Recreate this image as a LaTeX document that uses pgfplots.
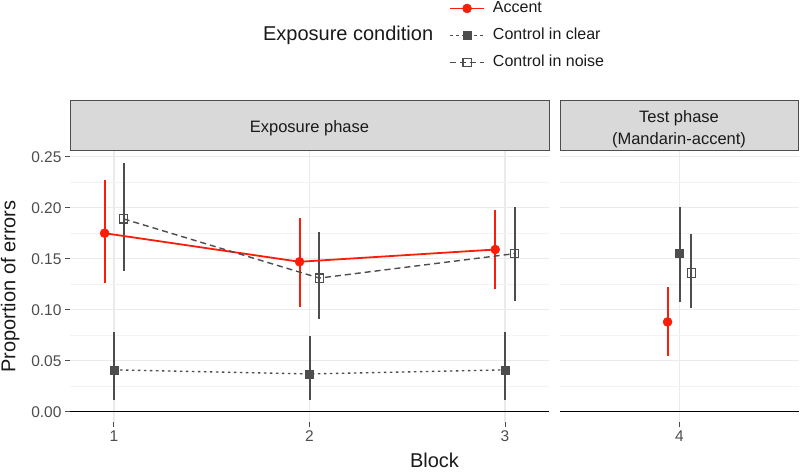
\documentclass[border=0pt]{standalone}
\usepackage{pgfplots}
\pgfplotsset{compat=1.18}
\usepackage{pgfplotstable}
\usepackage{fontspec}
\setmainfont{Liberation Sans}
\definecolor{accred}{RGB}{250,30,10}
\definecolor{ctrl}{RGB}{77,77,77}
\definecolor{gridc}{RGB}{235,235,235}
\definecolor{gridm}{RGB}{243,243,243}
\definecolor{stripfill}{RGB}{217,217,217}
\definecolor{tickc}{RGB}{77,77,77}
\definecolor{txt}{RGB}{26,26,26}

% point estimates
\pgfplotstableread{
x y
0.952 0.175
1.949 0.147
2.950 0.159
}\accL
\pgfplotstableread{
x y
1.000 0.041
2.000 0.037
3.000 0.041
}\clrL
\pgfplotstableread{
x y
1.050 0.189
2.050 0.131
3.050 0.155
}\noiL
\pgfplotstableread{
x y
3.939 0.088
}\accR
\pgfplotstableread{
x y
4.000 0.155
}\clrR
\pgfplotstableread{
x y
4.061 0.136
}\noiR

\pgfplotsset{
  panel/.style={
    scale only axis, anchor=south west,
    height=271pt, ymin=-0.0101, ymax=0.2556,
    axis line style={draw=none},
    ytick={0,0.05,0.10,0.15,0.20,0.25},
    minor ytick={0.025,0.075,0.125,0.175,0.225},
    grid=both,
    major grid style={gridc, line width=1.1pt},
    minor grid style={gridm, line width=0.6pt},
    tick align=outside, major tick length=5pt, minor tick length=0pt,
    xtick pos=bottom, ytick pos=left,
    every tick/.style={tickc, line width=1pt},
    tick label style={font=\fontsize{15.5}{18}\selectfont, text=tickc},
    /pgf/number format/assume math mode=true,
    yticklabel style={/pgf/number format/.cd, fixed, fixed zerofill, precision=2},
    clip=false, unbounded coords=jump,
  },
  ebar/.style={#1, line width=2pt, solid, forget plot, mark=none},
}

\begin{document}
\begin{tikzpicture}[x=1pt,y=1pt]
\useasboundingbox (0,0) rectangle (800,471);

% strips
\draw[fill=stripfill, draw=ctrl, line width=0.7pt] (70,321) rectangle (549,371);
\draw[fill=stripfill, draw=ctrl, line width=0.7pt] (560,321) rectangle (798,371);
\node[anchor=base, font=\fontsize{16.5}{20}\selectfont, text=txt] at (309.5,338.4) {Exposure phase};
\node[anchor=base, font=\fontsize{16.5}{20}\selectfont, text=txt] at (679,348.4) {Test phase};
\node[anchor=base, font=\fontsize{16.5}{20}\selectfont, text=txt] at (679,326.8) {(Mandarin-accent)};

\begin{axis}[panel, at={(70pt,49pt)}, width=479pt,
  xmin=0.775, xmax=3.225, xtick={1,2,3},
  legend style={at={(0.7912,1.5535)}, anchor=north west, draw=none, fill=none,
    inner sep=0pt, row sep=12.5pt,
    nodes={inner sep=0pt, text height=11.5pt, text depth=3pt, font=\fontsize{16}{19}\selectfont, text=txt},
    /tikz/every odd column/.append style={column sep=8pt}},
  legend cell align=left,
  legend image code/.code={\draw[mark repeat=2, mark phase=2, #1] plot coordinates {(0pt,0pt) (17pt,0pt) (34pt,0pt)};},
]
\addplot[black, line width=1.3pt, forget plot] coordinates {(0.775,0) (3.225,0)};
% 95% intervals (low, high)
\addplot[ebar=accred] coordinates {(0.952,0.126) (0.952,0.227) (0.952,nan) (1.949,0.103) (1.949,0.190) (1.949,nan) (2.950,0.120) (2.950,0.198)};
\addplot[ebar=ctrl] coordinates {(1.000,0.0115) (1.000,0.078) (1.000,nan) (2.000,0.0115) (2.000,0.074) (2.000,nan) (3.000,0.0115) (3.000,0.078)};
\addplot[ebar=ctrl] coordinates {(1.050,0.138) (1.050,0.2435) (1.050,nan) (2.050,0.091) (2.050,0.176) (2.050,nan) (3.050,0.109) (3.050,0.201)};
\addplot[accred, line width=1.8pt, mark=*, mark size=4.5pt, mark options={solid, fill=accred, line width=0.5pt}] table[x=x, y=y] {\accL};
\addlegendentry{Accent}
\addplot[ctrl, line width=1.4pt, dash pattern=on 2.5pt off 3.5pt, mark=square*, mark size=4pt, mark options={solid, fill=ctrl, line width=0.5pt}] table[x=x, y=y] {\clrL};
\addlegendentry{Control in clear}
\addplot[ctrl, line width=1.4pt, dash pattern=on 6pt off 4pt, mark=square, mark size=4.1pt, mark options={solid, fill=none, line width=1.1pt}] table[x=x, y=y] {\noiL};
\addlegendentry{Control in noise}
\end{axis}

\begin{axis}[panel, at={(560pt,49pt)}, width=239pt,
  xmin=3.39, xmax=4.61, xtick={4}, yticklabels={}, ytick style={draw=none}]
\addplot[black, line width=1.3pt, forget plot] coordinates {(3.39,0) (4.61,0)};
\addplot[ebar=accred] coordinates {(3.939,0.0546) (3.939,0.1225)};
\addplot[ebar=ctrl] coordinates {(4.000,0.108) (4.000,0.201)};
\addplot[ebar=ctrl] coordinates {(4.061,0.1014) (4.061,0.174)};
\addplot[accred, only marks, mark=*, mark size=4.5pt, mark options={solid, fill=accred, line width=0.5pt}] table[x=x, y=y] {\accR};
\addplot[ctrl, only marks, mark=square*, mark size=4pt, mark options={solid, fill=ctrl, line width=0.5pt}] table[x=x, y=y] {\clrR};
\addplot[ctrl, only marks, mark=square, mark size=4.1pt, mark options={solid, fill=none, line width=1.1pt}] table[x=x, y=y] {\noiR};
\end{axis}

\node[anchor=base east, font=\fontsize{20}{24}\selectfont, text=txt] at (436.7,430.5) {Exposure condition};
\node[anchor=base, font=\fontsize{20}{24}\selectfont, text=txt] at (434.5,3.5) {Block};
\node[anchor=base, rotate=90, font=\fontsize{20}{24}\selectfont, text=txt] at (15.5,184.5) {Proportion of errors};
\end{tikzpicture}
\end{document}
